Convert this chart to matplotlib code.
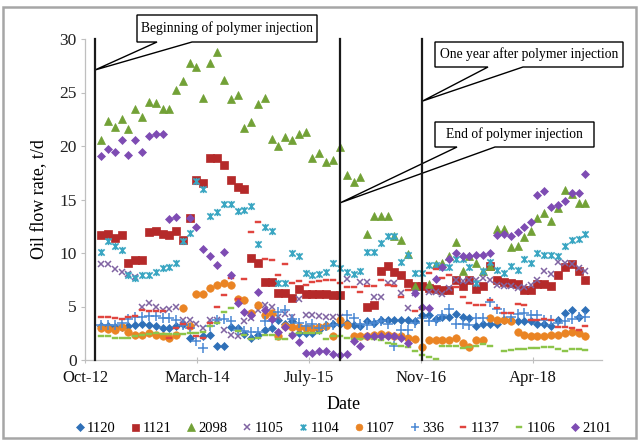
import numpy as np
import pandas as pd
import matplotlib
matplotlib.use("Agg")
import matplotlib.pyplot as plt
import matplotlib.dates as mdates
from matplotlib.path import Path
from matplotlib.patches import Polygon, Rectangle
from matplotlib.lines import Line2D

plt.rcParams['font.family'] = ['Liberation Serif', 'DejaVu Serif']

nan = np.nan
months = pd.date_range('2013-01-01', periods=72, freq='MS')

w1120 = [3.2, 3.2, 3.1, 3.1, 3.2, 3.3, 3.4, 3.3, 3.2, 3.0, 3.0, 3.2, 3.4, 2.1, nan, 2.2, 2.3, 1.3, 1.3, 3.1,
         3.0, 2.4, 2.1, 2.3, 2.8, 3.0, 3.7, 3.4, 3.6, 2.5, 2.5, 2.5, 2.8, 3.3, 3.4, 3.4, 3.5, 3.3, 3.2, 3.6,
         3.5, 3.7, 3.7, 3.7, 3.7, 3.7, 3.6, 4.2, 4.2, 3.8, 4.0, 4.0, 4.3, 4.0, 3.9, 3.2, 3.4, 3.4, 3.4, 3.7,
         3.7, 3.6, 3.6, 3.6, 3.4, 3.4, 3.2, 3.7, 4.4, 4.7, 4.0, 4.7]
w1121 = [11.7, 11.8, 11.4, 11.7, 9.1, 9.3, 9.3, 12.0, 12.1, 11.8, 11.7, 12.1, 11.2, 13.3, 16.8, 16.5, 18.9, 18.9, 18.2, 16.8,
         16.2, 16.0, 9.5, 9.1, 7.3, 7.3, 6.3, 6.3, 5.8, 6.6, 6.2, 6.2, 6.2, 6.2, 6.1, 6.1, nan, nan, nan, 5.0,
         5.1, 8.3, 8.8, 8.2, 7.9, 7.2, 6.9, 6.9, 6.7, 6.6, 6.5, 6.5, 7.5, 6.9, 7.5, 6.6, 6.9, 8.8, 7.5, 7.3,
         7.2, 7.1, 6.5, 6.5, 7.1, 7.1, 6.9, 7.9, 8.7, 9.0, 8.3, 7.5]
w2098 = [20.6, 22.3, 21.8, 22.5, 21.6, 23.5, 22.7, 24.1, 24.0, 23.5, 23.5, 25.2, 26.1, 27.8, 27.4, 24.5, 27.8, 28.8, 26.2, 24.4,
         24.8, 21.7, 22.2, 23.9, 24.5, 20.7, 20.0, 20.8, 20.6, 21.1, 21.3, 18.9, 19.3, 18.5, 18.7, 19.9, 17.3, 16.6, 17.1, 11.8,
         13.5, 13.5, 13.5, 11.6, 11.2, 9.9, 6.9, nan, 7.1, 9.0, 9.1, 9.7, 11.0, 8.3, 9.7, 9.1, 8.3, 8.8, 12.2, 12.2,
         10.6, 10.7, 11.5, 12.1, 13.3, 13.7, 13.0, 14.2, 15.9, 15.5, 14.7, 14.7]
w1105 = [9.0, 9.0, 8.5, 8.2, 8.0, 7.8, 5.0, 5.3, 5.0, 4.7, 4.8, 5.0, 3.7, 3.7, 3.4, 3.0, 3.7, 3.7, 2.8, 2.3,
         2.2, 3.6, 3.9, 4.7, 5.1, 5.0, 4.0, 4.3, 4.0, 5.7, 4.2, 4.2, 4.1, 4.0, 4.0, 4.0, 7.6, nan, 7.3, 7.3,
         5.9, 5.9, 7.2, 7.2, 6.3, 4.9, 6.3, nan, 6.4, 6.4, 6.2, 6.7, 7.5, 7.4, 7.5, 7.5, 7.7, 7.5, 7.0, 6.9,
         6.9, 6.7, 6.8, 7.0, 7.5, 8.3, 8.0, 9.2, 9.1, 9.0, 8.6, 8.3]
w1104 = [10.1, 11.1, 10.7, 10.3, 7.9, 7.7, 7.9, 7.9, 8.2, 8.6, 8.7, 9.1, 11.1, 11.9, 16.7, 16.0, 13.5, 13.8, 14.6, 14.6,
         13.9, 14.0, 14.4, 10.8, 12.4, 12.1, 7.2, 7.2, 10.0, 9.7, 8.1, 7.9, 8.0, 8.2, 9.1, 8.6, 8.2, 8.0, 8.3, 10.1,
         10.1, 10.9, 11.6, 11.6, 9.2, 9.8, 8.1, 8.1, 8.9, 8.9, 8.7, 8.7, 9.4, 9.4, 8.7, 7.2, 8.3, 9.2, 8.4, 8.1,
         8.8, 8.4, 9.4, 9.1, 10.0, 9.8, 9.8, 9.7, 10.7, 11.2, 11.3, 11.8]
w1107 = [3.0, 2.9, 2.8, 3.1, 2.6, 2.3, 2.3, 2.5, 2.3, 2.2, 2.1, 2.3, 4.9, 3.2, 6.2, 6.2, 6.7, 7.0, 7.2, 7.0,
         5.7, 5.6, 4.4, 5.1, 4.2, 4.4, 2.2, 3.2, 3.1, 3.1, 3.0, 3.0, 3.1, 3.2, 2.2, 3.7, 3.3, 2.2, 2.2, 2.2,
         2.3, 2.4, 2.3, 2.2, 2.2, 2.1, 2.0, 1.2, 1.9, 1.9, 1.9, 1.9, 2.1, 1.6, 1.2, 1.9, 1.9, 3.9, 3.7, 3.7,
         3.6, 2.6, 2.3, 2.2, 2.2, 2.2, 2.3, 2.3, 2.5, 2.6, 2.5, 2.2]
w336 = [3.3, 3.3, 3.3, 3.5, 3.8, 4.0, 4.0, 4.1, 4.1, 3.9, 3.9, 3.7, 3.3, 3.0, 1.8, 1.1, 3.2, 3.7, 3.8, 3.6,
        2.8, 2.7, 2.6, 2.6, 3.6, 3.6, 4.5, 4.7, 3.8, 3.5, 3.2, 3.4, 3.0, 3.2, 3.3, 3.3, 4.2, 3.9, 3.4, 3.3,
        3.5, 3.6, 3.4, 1.3, 2.8, 2.8, 3.5, 3.9, 3.6, 3.6, 4.2, 4.8, 3.4, 3.4, 3.3, 3.9, 3.9, 5.4, 4.8, 4.4,
        4.0, 4.3, 4.4, 4.2, 4.2, 3.7, 3.7, 3.5, 3.6, 3.8, 4.0, 4.0]
w1137 = [4.0, 4.0, 3.9, 3.8, 4.0, 4.1, 4.7, 4.6, 4.6, 4.6, 2.1, 3.0, 3.4, 3.0, 2.2, 2.1, 3.5, 5.0, 6.1, 7.7,
         5.7, 7.6, 12.0, 12.9, 9.4, 9.3, 7.9, 9.0, 7.2, 7.4, 7.0, 7.3, 7.4, 7.5, 7.5, 7.2, 6.8, 6.8, 6.4, 6.9,
         6.9, 7.5, 7.0, 6.9, 5.9, 6.5, 4.6, 4.8, 8.1, 8.5, 7.7, 7.9, 6.8, 5.9, 5.3, 5.1, 5.1, 5.6, 4.9, 4.4,
         4.4, 5.2, 5.1, 3.7, 3.7, 3.8, 3.7, 3.1, 3.1, 3.0, 2.8, 3.2]
w1106 = [2.2, 2.2, 2.1, 2.1, 2.1, 2.2, 2.3, 2.4, 2.5, 2.4, 2.4, 2.4, 2.4, 2.5, 2.5, 2.6, 3.2, 3.5, 4.5, 4.9,
         2.7, 2.3, 2.0, 2.1, 2.3, 2.3, 2.0, 2.0, 2.4, 2.5, 2.5, 2.5, 2.5, 2.0, 2.2, 2.2, 2.1, 2.0, 2.0, 2.1,
         2.0, 1.9, 1.6, 1.5, 1.3, 1.2, 0.8, 0.5, 0.3, 0.1, 1.3, 1.3, 1.3, 1.1, 1.2, 1.3, 1.5, 1.3, nan, 0.8,
         0.9, 1.0, 1.0, 1.1, 1.1, 1.2, 1.2, 1.0, 0.8, 1.0, 1.0, 0.9]
w2101 = [19.1, 19.7, 19.4, 20.6, 19.2, 20.6, 19.4, 20.9, 21.1, 21.1, 13.2, 13.4, nan, 13.3, 12.4, 10.4, 9.7, 8.9, 10.1, 7.9,
         5.3, 4.5, 4.2, 6.4, 4.7, 3.8, 2.6, 3.1, 2.3, 1.7, 0.7, 0.7, 0.8, 0.8, 0.6, 0.5, 0.6, 1.8, 1.3, 2.2,
         2.2, 2.2, 2.2, 2.2, 2.1, 1.6, 6.3, 5.0, 4.9, 7.6, 8.7, 9.4, 10.0, 9.7, 9.7, 9.8, 9.8, 10.0, 11.7, 11.8,
         11.6, 12.0, 12.4, 12.9, 15.4, 15.8, 14.3, 14.5, 14.9, 15.6, 15.6, 17.4]

series_names = ['1120', '1121', '2098', '1105', '1104', '1107', '336', '1137', '1106', '2101']
series_values = [w1120, w1121, w2098, w1105, w1104, w1107, w336, w1137, w1106, w2101]

tick_dates = pd.to_datetime(['2012-10-20', '2014-03-04', '2015-07-17', '2016-11-28', '2018-04-11'])
tick_labels = ['Oct-12', 'March-14', 'July-15', 'Nov-16', 'Apr-18']
x_start = pd.Timestamp('2012-10-20')
x_end = pd.Timestamp('2019-02-13')

event_dates = pd.to_datetime(['2012-12-03', '2015-12-04', '2016-12-04'])
callout_texts = ['Beginning of polymer injection', 'One year after polymer injection', 'End of polymer injection']
callout_tip_dates = pd.to_datetime(['2012-12-03', '2016-12-04', '2015-12-04'])
callout_tip_values = [27.1, 24.2, 14.7]

# marker shapes
star = Path([(-1, -1), (1, 1), (-1, 1), (1, -1), (0, -1.15), (0, 1.15)],
            [Path.MOVETO, Path.LINETO, Path.MOVETO, Path.LINETO, Path.MOVETO, Path.LINETO])
dash = Path([(-1, -0.32), (1, -0.32), (1, 0.32), (-1, 0.32), (-1, -0.32)],
            [Path.MOVETO, Path.LINETO, Path.LINETO, Path.LINETO, Path.CLOSEPOLY])

styles = {
    '1120': dict(marker='D', color='#2F70B8', ms=4.0, mew=0.5),
    '1121': dict(marker='s', color='#B52A2A', ms=5.6, mew=0.5),
    '2098': dict(marker='^', color='#72A136', ms=6.0, mew=0.5),
    '1105': dict(marker='x', color='#8064A2', ms=5.0, mew=1.1),
    '1104': dict(marker=star, color='#3AA6C2', ms=5.2, mew=1.2),
    '1107': dict(marker='o', color='#EA8424', ms=5.4, mew=0.5),
    '336':  dict(marker='+', color='#4A88D3', ms=7.0, mew=1.1),
    '1137': dict(marker=dash, color='#E0453F', ms=5.0, mew=0.3),
    '1106': dict(marker=dash, color='#8CC54A', ms=5.0, mew=0.3),
    '2101': dict(marker='D', color='#7E4CB3', ms=4.0, mew=0.5),
}

W, H = 639, 441
fig = plt.figure(figsize=(W / 100, H / 100), dpi=100)
ax = fig.add_axes([85 / W, 1 - 360 / H, (602 - 85) / W, (360 - 39) / H])

for name, vals in zip(series_names, series_values):
    st = styles[name]
    ax.plot(months, vals, linestyle='none', marker=st['marker'], markersize=st['ms'],
            color=st['color'], markeredgecolor=st['color'], markeredgewidth=st['mew'],
            label=name, zorder=3)

ax.set_xlim(x_start, x_end)
ax.set_ylim(0, 30)
ax.set_yticks(np.arange(0, 31, 5))
ax.set_xticks(tick_dates)
ax.set_xticklabels(tick_labels)

for s in ['top', 'right']:
    ax.spines[s].set_visible(False)
for s in ['left', 'bottom']:
    ax.spines[s].set_color('#BFBFBF')
    ax.spines[s].set_linewidth(0.9)
ax.tick_params(axis='y', direction='out', length=3, width=0.8, color='#BFBFBF',
               labelsize=12.5, pad=3, labelcolor='#222222')
ax.tick_params(axis='x', direction='inout', length=5, width=0.8, color='#BFBFBF',
               labelsize=12, pad=5, labelcolor='#111111')

ax.set_ylabel('Oil flow rate, t/d', fontsize=13, labelpad=8)
ax.set_xlabel('Date', fontsize=13, labelpad=7)

leg = fig.legend(loc='center', bbox_to_anchor=(343 / W, 1 - 428 / H), ncol=10, frameon=False,
                 fontsize=10.5, handlelength=0.7, handletextpad=0.15, columnspacing=1.0,
                 markerscale=0.9, borderaxespad=0)

# callout boxes: (left, top, right, bottom) and wedge base x positions, in figure pixels
callout_boxes = [(137, 15, 317, 42), (435, 42, 623, 67), (435, 122, 594, 147)]
callout_bases = [(157, 192), (488, 523), (457, 495)]

fig.canvas.draw()
fw = fig.dpi * fig.get_figwidth()
fh = fig.dpi * fig.get_figheight()
for text, box, base, tdate, tval in zip(callout_texts, callout_boxes, callout_bases,
                                          callout_tip_dates, callout_tip_values):
    x0, y0, x1, y1 = box
    tx, ty = ax.transData.transform((mdates.date2num(tdate), tval))
    tip = (tx / fw, ty / fh)
    fx = lambda v: v / W
    fy = lambda v: 1 - v / H
    verts = [(fx(x0), fy(y0)), (fx(x1), fy(y0)), (fx(x1), fy(y1)), (fx(base[1]), fy(y1)),
             tip, (fx(base[0]), fy(y1)), (fx(x0), fy(y1))]
    poly = Polygon(verts, closed=True, facecolor='white', edgecolor='black', lw=1.0,
                   transform=fig.transFigure, zorder=4)
    fig.add_artist(poly)
    fig.text(fx((x0 + x1) / 2), fy((y0 + y1) / 2), text, ha='center', va='center',
             fontsize=9.8, color='black', zorder=6)

# event lines drawn above the callout wedges
for d in event_dates:
    x, _ = ax.transData.transform((mdates.date2num(d), 0))
    _, ytop = ax.transData.transform((0, 30))
    _, ybot = ax.transData.transform((0, 0))
    fig.add_artist(Line2D([x / fw] * 2, [ybot / fh, ytop / fh],
                          color='#1a1a1a', lw=1.6, transform=fig.transFigure, zorder=7))

fig.add_artist(Rectangle((3 / W, 1 - 438 / H), (636 - 3) / W, (438 - 7) / H, fill=False,
                         edgecolor='#A6A6A6', lw=1.8, transform=fig.transFigure))

fig.savefig('out.png', dpi=100)
